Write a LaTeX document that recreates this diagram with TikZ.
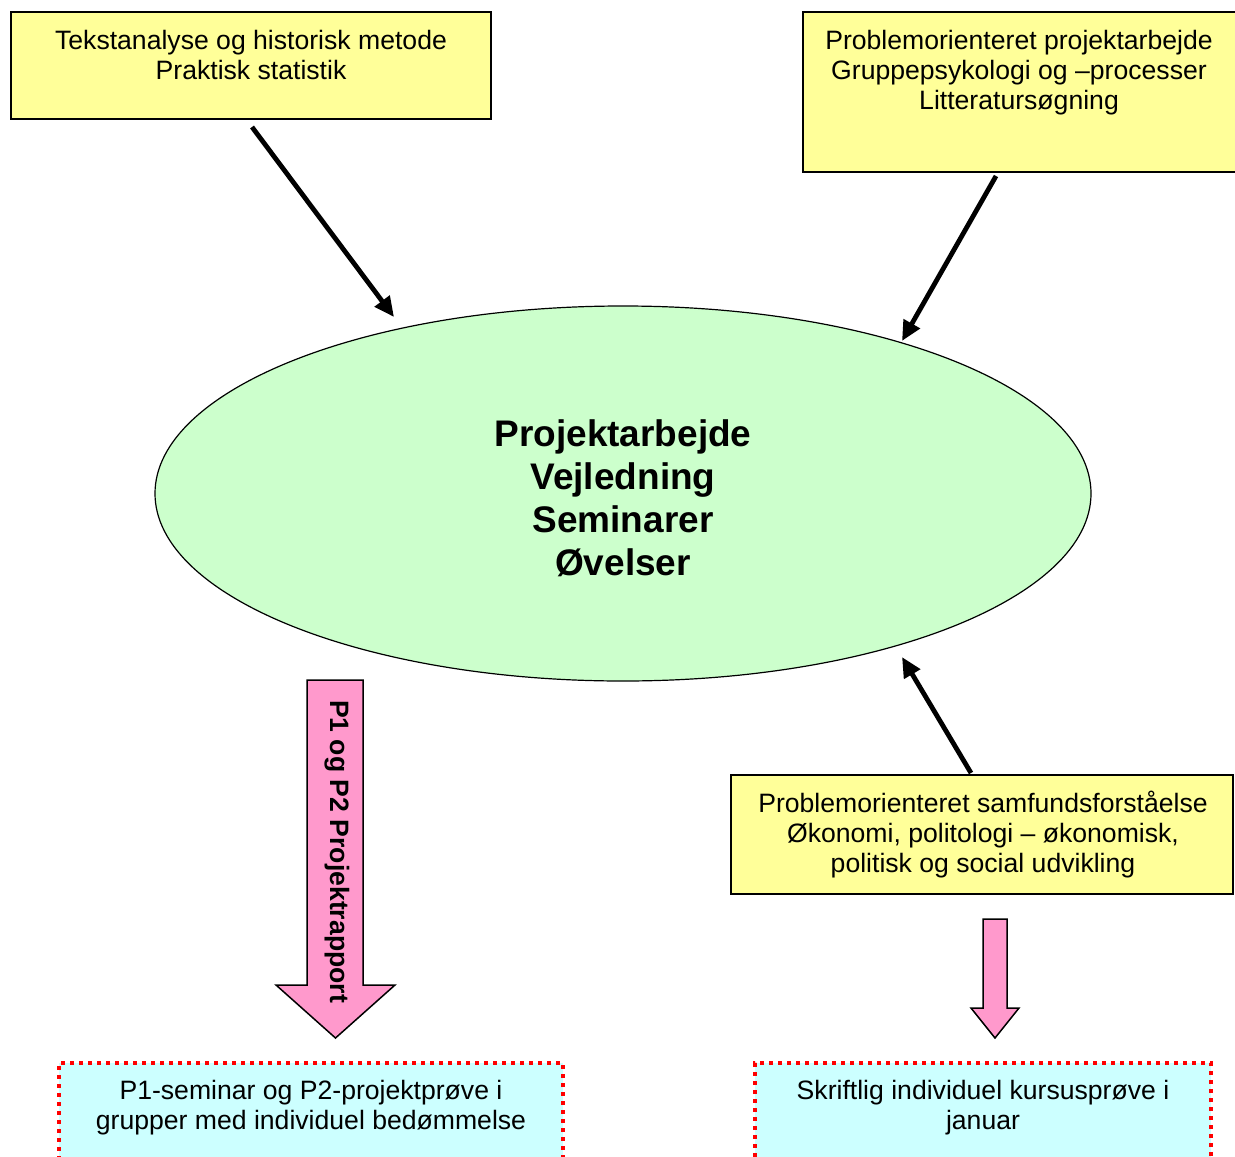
\documentclass[tikz,border=0pt]{standalone}
\usepackage{fontspec}
\setmainfont{Liberation Sans}
\usetikzlibrary{arrows.meta,shapes.geometric}
\definecolor{boxyellow}{HTML}{FFFF99}
\definecolor{ellgreen}{HTML}{CCFFCC}
\definecolor{boxcyan}{HTML}{CCFFFF}
\definecolor{arrowpink}{HTML}{FF99CC}
\begin{document}
\begin{tikzpicture}[x=0.5pt,y=-0.5pt,
  ybox/.style={draw=black, line width=0.75pt, fill=boxyellow, rectangle, inner sep=0},
  cbox/.style={draw=red, fill=boxcyan, line width=1.6pt, dash pattern=on 2pt off 2.5pt, rectangle, inner sep=0},
  lbl/.style={align=center, inner sep=0, anchor=north, font=\fontsize{13.3}{15}\selectfont},
  conn/.style={line width=2.4pt, -{Triangle[length=10pt,width=9pt]}},
  pinkarrow/.style={draw=black, line width=0.75pt, fill=arrowpink, line join=miter}
]
\useasboundingbox (0,0) rectangle (1235,1156);
\clip (0,0) rectangle (1235,1156);
\fill[white] (0,0) rectangle (1235,1156);

% top boxes
\node[ybox, minimum width=240pt, minimum height=53.5pt] (b1) at (251,65.5) {};
\node[lbl] (t1) at (251,30) {Tekstanalyse og historisk metode\\Praktisk statistik};

\node[ybox, minimum width=220pt, minimum height=80pt] (b2) at (1023,92) {};
\node[lbl] (t2) at (1019,30) {Problemorienteret projektarbejde\\Gruppepsykologi og –processer\\Litteratursøgning};

% ellipse
\node[ellipse, draw=black, line width=0.6pt, fill=ellgreen, minimum width=468pt, minimum height=187.5pt, inner sep=0] (ell) at (623,493.5) {};
\node[align=center, inner sep=0, font=\bfseries\fontsize{18.5}{21.5}\selectfont] (et) at (623,498) {Projektarbejde\\Vejledning\\Seminarer\\Øvelser};

% right middle box
\node[ybox, minimum width=251pt, minimum height=59.5pt] (b3) at (982,834.5) {};
\node[lbl] (t3) at (983,791) {Problemorienteret samfundsforståelse\\Økonomi, politologi – økonomisk,\\politisk og social udvikling};

% bottom boxes
\node[cbox, minimum width=252pt, minimum height=75pt] (b4) at (311,1138) {};
\node[lbl] (t4) at (311,1080) {P1-seminar og P2-projektprøve i\\grupper med individuel bedømmelse};

\node[cbox, minimum width=228pt, minimum height=75pt] (b5) at (983,1138) {};
\node[lbl] (t5) at (983,1080) {Skriftlig individuel kursusprøve i\\januar};

% connectors
\coordinate (a1s) at (252,127);
\coordinate (a1e) at (394,317);
\coordinate (a2s) at (996,176);
\coordinate (a2e) at (902,341);
\coordinate (a3s) at (971,773);
\coordinate (a3e) at (902,657);
\draw[conn] (a1s) -- (a1e);
\draw[conn] (a2s) -- (a2e);
\draw[conn] (a3s) -- (a3e);

% pink block arrows
\draw[pinkarrow] (307,680) -- (363,680) -- (363,985) -- (395,985) -- (335.5,1038) -- (276,985) -- (307,985) -- cycle;
\node[rotate=-90, inner sep=0, font=\bfseries\fontsize{13.3}{15}\selectfont] (pl) at (337,851.5) {P1 og P2 Projektrapport};

\draw[pinkarrow] (983,919) -- (1007,919) -- (1007,1008) -- (1019,1008) -- (995,1038) -- (971,1008) -- (983,1008) -- cycle;
\end{tikzpicture}
\end{document}
